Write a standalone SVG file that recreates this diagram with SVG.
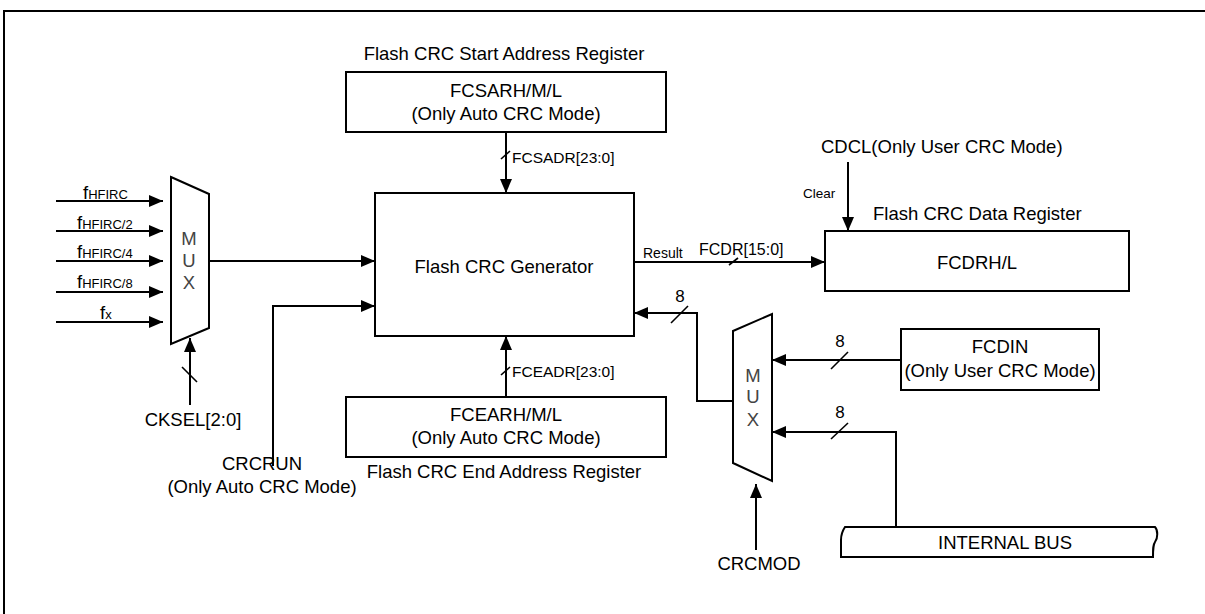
<svg xmlns="http://www.w3.org/2000/svg" width="1205" height="614" viewBox="0 0 1205 614">
<defs>
<marker id="ah" viewBox="0 0 14 12" refX="14" refY="6" markerWidth="14" markerHeight="12" markerUnits="userSpaceOnUse" orient="auto">
<path d="M0,0 L14,6 L0,12 Z" fill="#000"/>
</marker>
<style>
text{font-family:"Liberation Sans",Arial,sans-serif;fill:#000}
.t{font-size:18.5px}
.m{text-anchor:middle}
.s{font-size:15.5px}
.sub{font-size:13px}
.mux{font-size:18.5px;fill:#444;text-anchor:middle}
.box{fill:#fff;stroke:#000;stroke-width:2}
.w{fill:none;stroke:#000;stroke-width:2}
.a{fill:none;stroke:#000;stroke-width:2;marker-end:url(#ah)}
.sl{fill:none;stroke:#000;stroke-width:1.6}
</style>
</defs>
<rect x="0" y="0" width="1205" height="614" fill="#fff"/>
<path class="w" d="M4,614 V11 H1205"/>

<g id="connectors">
<path class="a" d="M56,201 H163"/>
<path class="a" d="M56,231 H163"/>
<path class="a" d="M56,261 H163"/>
<path class="a" d="M56,292 H163"/>
<path class="a" d="M56,322 H163"/>
<path class="a" d="M209,261 H375"/>
<path class="a" d="M190,405 V338"/>
<path class="sl" d="M182,367 L197,382"/>
<path class="a" d="M273,466 V306 H375"/>
<path class="a" d="M506,132 V193"/>
<path class="sl" d="M501,159 L510,151"/>
<path class="a" d="M506,397 V336"/>
<path class="sl" d="M501,375 L510,367"/>
<path class="a" d="M634,262 H825"/>
<path class="sl" d="M729,265 L738,258"/>
<path class="a" d="M848,162 V231"/>
<path class="a" d="M733,401 H697 V313 H634"/>
<path class="sl" d="M671,323 L688,306"/>
<path class="a" d="M901,360 H772"/>
<path class="sl" d="M831,369 L848,352"/>
<path class="a" d="M896,527 V432 H772"/>
<path class="sl" d="M831,439 L848,423"/>
<path class="a" d="M756,550 V484"/>
</g>

<g id="inputs">
<text x="83" y="199" class="t">f<tspan class="sub">HFIRC</tspan></text>
<text x="77" y="229" class="t">f<tspan class="sub">HFIRC/2</tspan></text>
<text x="77" y="258" class="t">f<tspan class="sub">HFIRC/4</tspan></text>
<text x="77" y="288" class="t">f<tspan class="sub">HFIRC/8</tspan></text>
<text x="100" y="319" class="t">f<tspan class="sub">x</tspan></text>
</g>

<g id="mux1">
<path class="box" d="M171,177 L209,194 L209,328 L171,344 Z"/>
<text x="189" y="245" class="mux">M</text>
<text x="189" y="267" class="mux">U</text>
<text x="189" y="289" class="mux">X</text>
</g>

<g id="cksel">
<text x="193" y="426" class="t m">CKSEL[2:0]</text>
</g>

<g id="crcrun">
<text x="262" y="470" class="t m">CRCRUN</text>
<text x="262" y="493" class="t m">(Only Auto CRC Mode)</text>
</g>

<g id="fcsar">
<text x="504" y="60" class="t m">Flash CRC Start Address Register</text>
<rect class="box" x="346" y="72" width="320" height="60"/>
<text x="506" y="97" class="t m">FCSARH/M/L</text>
<text x="506" y="120" class="t m">(Only Auto CRC Mode)</text>
<text x="512" y="163" class="s">FCSADR[23:0]</text>
</g>

<g id="generator">
<rect class="box" x="375" y="193" width="259" height="143"/>
<text x="504" y="273" class="t m">Flash CRC Generator</text>
</g>

<g id="fcear">
<text x="512" y="377" class="s">FCEADR[23:0]</text>
<rect class="box" x="346" y="397" width="320" height="60"/>
<text x="506" y="421" class="t m">FCEARH/M/L</text>
<text x="506" y="444" class="t m">(Only Auto CRC Mode)</text>
<text x="504" y="478" class="t m">Flash CRC End Address Register</text>
</g>

<g id="result">
<text x="643" y="258" style="font-size:14px">Result</text>
<text x="699" y="255" style="font-size:16px">FCDR[15:0]</text>
</g>

<g id="cdcl">
<text x="821" y="153" class="t">CDCL(Only User CRC Mode)</text>
<text x="803" y="198" style="font-size:13.5px">Clear</text>
</g>

<g id="fcdr">
<text x="873" y="220" class="t">Flash CRC Data Register</text>
<rect class="box" x="825" y="231" width="304" height="60"/>
<text x="977" y="269" class="t m">FCDRH/L</text>
</g>

<g id="widths">
<text x="680" y="302" class="m" style="font-size:17px">8</text>
<text x="840" y="347" class="m" style="font-size:17px">8</text>
<text x="840" y="418" class="m" style="font-size:17px">8</text>
</g>

<g id="mux2">
<path class="box" d="M733,331 L772,314 L772,481 L733,463 Z"/>
<text x="753" y="382" class="mux">M</text>
<text x="753" y="403" class="mux">U</text>
<text x="753" y="426" class="mux">X</text>
</g>

<g id="fcdin">
<rect class="box" x="901" y="329" width="198" height="61"/>
<text x="1000" y="353" class="t m">FCDIN</text>
<text x="1000" y="377" class="t m">(Only User CRC Mode)</text>
</g>

<g id="crcmod">
<text x="759" y="570" class="t m">CRCMOD</text>
</g>

<g id="bus">
<path class="box" d="M845,527 H1155 C1158,530 1158,538 1155,542 C1153,545 1153,548 1153,557 H841 V540 C841,535 843,530 845,527 Z"/>
<text x="1005" y="549" class="t m">INTERNAL BUS</text>
</g>
</svg>
